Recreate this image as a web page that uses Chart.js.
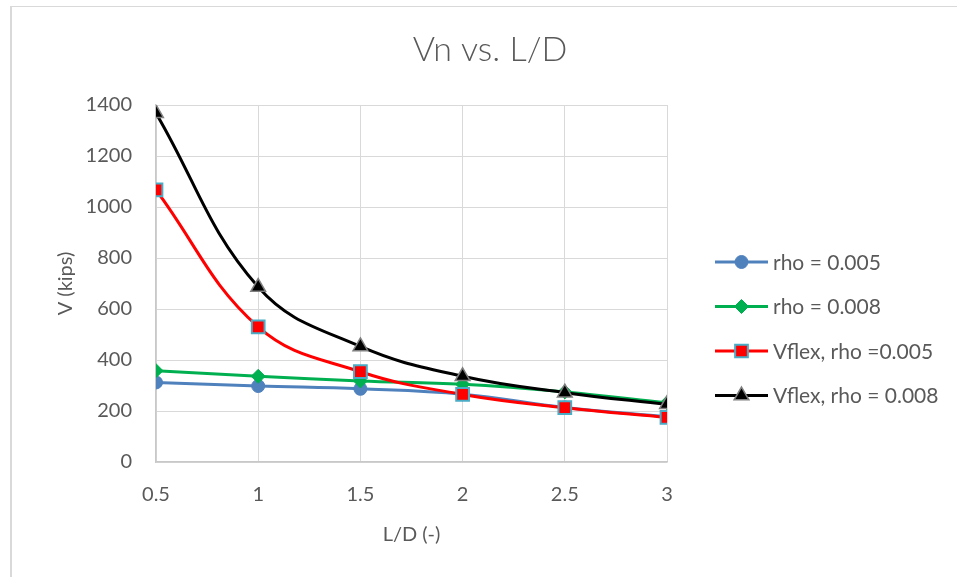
<!DOCTYPE html>
<html>
<head>
<meta charset="utf-8">
<script src="https://cdn.jsdelivr.net/npm/chart.js@4/dist/chart.umd.min.js"></script>
<style>
  html, body { margin: 0; padding: 0; background: #ffffff; overflow: hidden; }
  #wrap { position: relative; width: 957px; height: 577px; }
  #frame { position: absolute; left: 10px; top: 6px; width: 1200px; height: 800px;
           border-left: 2px solid #d9d9d9; border-top: 1px solid #d9d9d9; box-sizing: border-box; pointer-events: none; }
  canvas { position: absolute; left: 0; top: 0; }
</style>
</head>
<body>
<div id="wrap">
  <canvas id="c" width="957" height="577"></canvas>
  <div id="frame"></div>
</div>
<script>
// ---- data ----
const chartTitle = "Vn vs. L/D";
const xTitle = "L/D (-)";
const yTitle = "V (kips)";
const ldValues = [0.5, 1, 1.5, 2, 2.5, 3];
const seriesNames = ["rho = 0.005", "rho = 0.008", "Vflex, rho =0.005", "Vflex, rho = 0.008"];
const vRho005 = [312, 298, 287, 266, 214, 177];
const vRho008 = [358, 336, 318, 305, 275, 232];
const vFlex005 = [1067, 530, 354, 265, 213, 175];
const vFlex008 = [1368, 686, 453, 336, 272, 226];
const yTicks = [0, 200, 400, 600, 800, 1000, 1200, 1400];

const toPts = arr => ldValues.map((x, i) => ({ x: x, y: arr[i] }));
const textColor = "#595959";
const FONT = "Lato";

const styles = [
  { color: "#4f81bd", point: "circle", radius: 6.5, pbg: "#4f81bd", pborder: "#4f81bd", pbw: 1, order: 4 },
  { color: "#00b050", point: "rectRot", radius: 7, pbg: "#00b050", pborder: "#00b050", pbw: 1, order: 3 },
  { color: "#ff0000", point: "rect", radius: 9, pbg: "#ff0000", pborder: "#4bacc6", pbw: 2, order: 2 },
  { color: "#000000", point: "triangle", radius: 8.5, pbg: "#000000", pborder: "#7f7f7f", pbw: 1.5, order: 1 }
];
const seriesData = [vRho005, vRho008, vFlex005, vFlex008];

const datasets = seriesData.map((arr, i) => ({
  label: seriesNames[i],
  data: toPts(arr),
  borderColor: styles[i].color,
  backgroundColor: styles[i].pbg,
  borderWidth: 3,
  tension: 0.4,
  pointStyle: styles[i].point,
  pointRadius: styles[i].radius,
  pointBackgroundColor: styles[i].pbg,
  pointBorderColor: styles[i].pborder,
  pointBorderWidth: styles[i].pbw,
  order: styles[i].order
}));

const titlePlugin = {
  id: "customTitle",
  afterDraw(chart) {
    const ctx = chart.ctx;
    ctx.save();
    ctx.font = "300 34px " + FONT;
    ctx.fillStyle = textColor;
    ctx.textAlign = "center";
    ctx.textBaseline = "middle";
    ctx.fillText(chartTitle, 490, 50);
    ctx.restore();
  }
};

const legendPlugin = {
  id: "customLegend",
  afterDraw(chart) {
    const ctx = chart.ctx;
    const x0 = 715, x1 = 768, xt = 773, y0 = 262, dy = 44.5;
    ctx.save();
    chart.data.datasets.forEach((ds, i) => {
      const y = y0 + i * dy;
      ctx.beginPath();
      ctx.strokeStyle = ds.borderColor;
      ctx.lineWidth = 3;
      ctx.moveTo(x0, y);
      ctx.lineTo(x1, y);
      ctx.stroke();
      ctx.fillStyle = ds.pointBackgroundColor;
      ctx.strokeStyle = ds.pointBorderColor;
      ctx.lineWidth = ds.pointBorderWidth;
      Chart.helpers.drawPoint(ctx, { pointStyle: ds.pointStyle, radius: ds.pointRadius, borderWidth: ds.pointBorderWidth, rotation: 0 }, (x0 + x1) / 2, y);
      ctx.fillStyle = textColor;
      ctx.font = "21px " + FONT;
      ctx.textAlign = "left";
      ctx.textBaseline = "middle";
      ctx.fillText(ds.label, xt, y + 1);
    });
    ctx.restore();
  }
};

new Chart(document.getElementById("c"), {
  type: "line",
  data: { datasets: datasets },
  options: {
    responsive: false,
    animation: false,
    layout: { padding: { left: 0, right: 290, top: 105, bottom: 0 } },
    plugins: { legend: { display: false }, title: { display: false }, tooltip: { enabled: false } },
    scales: {
      x: {
        type: "linear",
        min: 0.5, max: 3,
        afterFit(scale) { scale.height = 115; },
        afterBuildTicks(scale) { scale.ticks = ldValues.map(v => ({ value: v })); },
        ticks: { color: textColor, font: { family: FONT, size: 20 }, padding: 21, callback: v => String(v) },
        grid: { color: "#d9d9d9", lineWidth: 1, drawTicks: false },
        border: { color: "#c8c8c8", width: 1.5 },
        title: { display: true, text: xTitle, color: textColor, font: { family: FONT, size: 20 }, padding: { top: 0, bottom: 30 } }
      },
      y: {
        min: 0, max: 1400,
        afterFit(scale) { scale.width = 156; },
        afterBuildTicks(scale) { scale.ticks = yTicks.map(v => ({ value: v })); },
        ticks: { color: textColor, font: { family: FONT, size: 20 }, padding: 24, callback: v => String(v) },
        grid: { color: "#d9d9d9", lineWidth: 1, drawTicks: false },
        border: { color: "#c8c8c8", width: 1.5 },
        title: { display: true, text: yTitle, color: textColor, font: { family: FONT, size: 20 }, padding: { top: 54, bottom: 0 } }
      }
    }
  },
  plugins: [titlePlugin, legendPlugin]
});
</script>
</body>
</html>
